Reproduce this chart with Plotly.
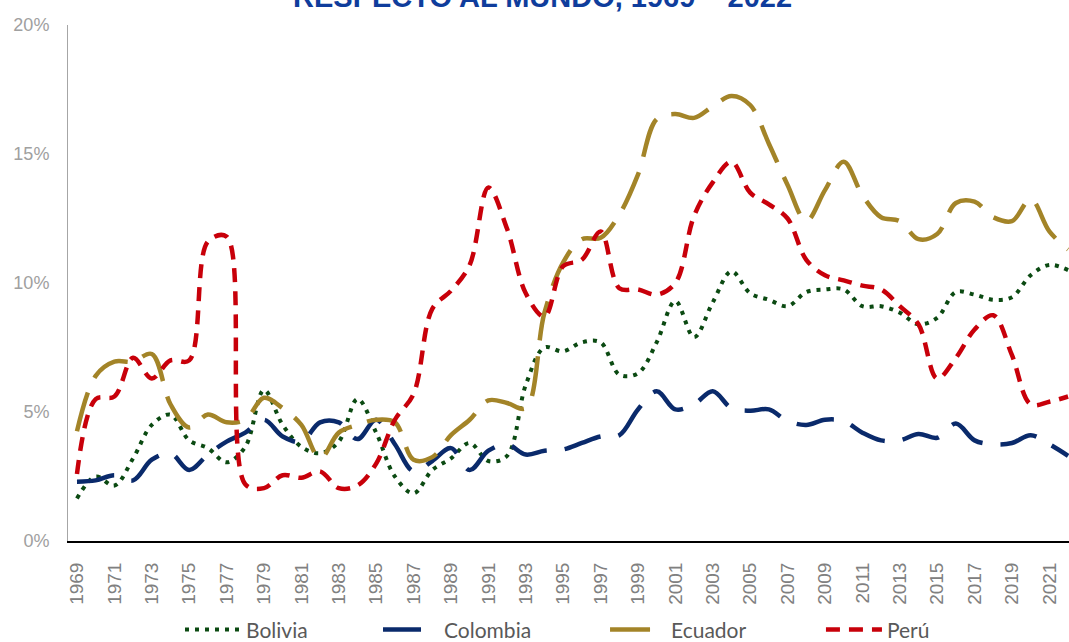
import plotly.graph_objects as go

years = list(range(1969, 2023))

bolivia = [1.65, 2.5, 2.15, 3.2, 4.5, 4.9, 3.9, 3.6, 3.05, 3.65,
           5.85, 4.5, 3.65, 3.4, 3.85, 5.5, 4.2, 2.5, 1.85, 2.75,
           3.2, 3.8, 3.1, 3.3, 6.05, 7.5, 7.35, 7.7, 7.7, 6.45,
           6.5, 7.7, 9.3, 7.9, 9.25, 10.45, 9.6, 9.35, 9.1, 9.65,
           9.75, 9.75, 9.1, 9.1, 8.85, 8.4, 8.65, 9.65, 9.55, 9.35,
           9.45, 10.3, 10.7, 10.5]

colombia = [2.3, 2.35, 2.55, 2.35, 3.15, 3.4, 2.75, 3.35, 3.85, 4.2,
            4.7, 4.05, 3.85, 4.6, 4.6, 3.95, 4.7, 3.75, 2.7, 3.1,
            3.6, 2.75, 3.5, 3.75, 3.35, 3.5, 3.55, 3.8, 4.05, 4.1,
            5.1, 5.8, 5.1, 5.3, 5.8, 5.15, 5.05, 5.1, 4.65, 4.5,
            4.7, 4.65, 4.2, 3.9, 3.9, 4.15, 4.0, 4.55, 3.9, 3.75,
            3.8, 4.1, 3.75, 3.3]

ecuador = [4.25, 6.4, 6.95, 6.95, 7.25, 5.3, 4.4, 4.9, 4.6, 4.7,
           5.55, 5.15, 4.5, 3.2, 4.2, 4.5, 4.7, 4.6, 3.15, 3.25,
           4.1, 4.7, 5.45, 5.35, 5.15, 8.85, 10.8, 11.7, 11.75, 12.65,
           14.2, 16.35, 16.55, 16.4, 16.85, 17.25, 16.9, 15.4, 13.8, 12.4,
           13.6, 14.7, 13.4, 12.55, 12.4, 11.7, 11.9, 13.1, 13.15, 12.55,
           12.4, 13.25, 12.0, 11.3]

peru = [2.6, 5.5, 5.6, 7.1, 6.3, 7.0, 7.0, 11.6, 11.8, 2.2,
        2.05, 2.55, 2.45, 2.7, 2.05, 2.15, 3.0, 4.7, 5.7, 9.0,
        9.7, 10.7, 13.7, 12.1, 9.6, 8.7, 10.65, 10.9, 12.0, 9.8,
        9.75, 9.55, 10.0, 12.6, 13.9, 14.7, 13.5, 13.05, 12.5, 10.9,
        10.3, 10.1, 9.9, 9.75, 9.1, 8.4, 6.3, 7.1, 8.2, 8.75,
        7.2, 5.3, 5.4, 5.6]

tick_years = years[::2]
tick_labels = [str(y) for y in tick_years]
y_ticks = [0, 5, 10, 15, 20]
y_tick_labels = ["0%", "5%", "10%", "15%", "20%"]

series = [
    ("Bolivia", bolivia, "#0B4A12", "4px,6px", 4, "legend", 0.1119),
    ("Colombia", colombia, "#0A2A6B", "38px,18px", 4.5, "legend2", 0.3097),
    ("Ecuador", ecuador, "#A38428", "40px,16px", 4.5, "legend3", 0.5365),
    ("Perú", peru, "#C8000A", "14px,9px", 4.5, "legend4", 0.7522),
]

fig = go.Figure()
legends = {}
for name, vals, color, dash, width, leg, lx in series:
    fig.add_trace(go.Scatter(
        x=years, y=vals, name=name, mode="lines", legend=leg,
        line=dict(color=color, width=width, dash=dash, shape="spline", smoothing=1.0),
        hoverinfo="x+y+name",
    ))
    legends[leg] = dict(
        orientation="h", x=lx, xanchor="left", y=-0.172, yanchor="middle",
        font=dict(family="Lato", size=21, color="#595959"),
        itemwidth=56, bgcolor="rgba(0,0,0,0)",
    )

fig.update_layout(
    width=1069, height=642, autosize=False,
    margin=dict(l=68, r=0, t=25, b=101, autoexpand=False),
    paper_bgcolor="white", plot_bgcolor="white",
    showlegend=True,
    annotations=[dict(
        text="<b>RESPECTO AL MUNDO, 1969 – 2022</b>",
        xref="paper", yref="paper", x=0.4745, y=1.019,
        xanchor="center", yanchor="bottom", showarrow=False,
        font=dict(family="Liberation Sans", size=29, color="#0F3D9C"),
    )],
    **legends,
)

fig.update_xaxes(
    range=[1968.52, 2022.05], automargin=False,
    tickmode="array", tickvals=tick_years, ticktext=tick_labels,
    tickangle=-90, ticks="", showgrid=False, zeroline=False,
    showline=True, linecolor="#000000", linewidth=2,
    tickfont=dict(family="Liberation Sans", size=19, color="#808080"),
    ticklabelstandoff=12,
)
fig.update_yaxes(
    range=[0, 20], automargin=False,
    tickmode="array", tickvals=y_ticks, ticktext=y_tick_labels,
    ticks="", showgrid=False, zeroline=False,
    showline=True, linecolor="#A6A6A6", linewidth=1,
    tickfont=dict(family="Liberation Sans", size=18, color="#A0A0A0"),
    ticklabelstandoff=14,
)

fig.write_html(
    "out.html",
    config={"responsive": False, "displayModeBar": False},
    post_script="document.body.style.margin='0';document.body.style.overflow='hidden';",
)
